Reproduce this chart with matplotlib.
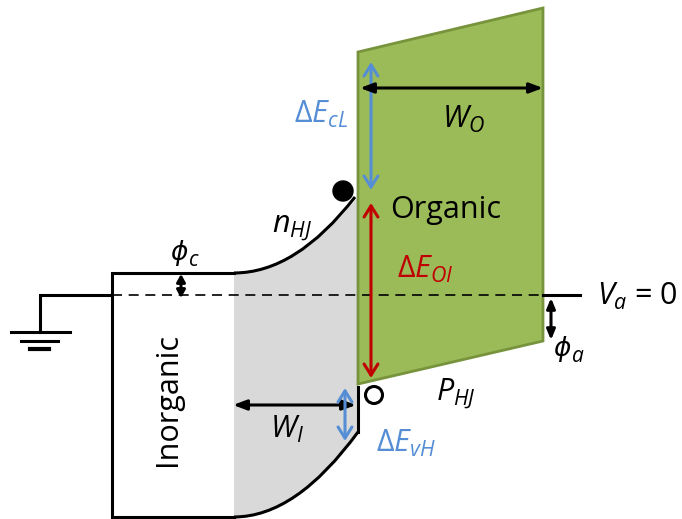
import matplotlib
matplotlib.use('Agg')
import matplotlib.pyplot as plt
from matplotlib.path import Path
from matplotlib.patches import PathPatch, Polygon, Circle

plt.rcParams['font.family'] = ['Open Sans', 'DejaVu Sans']
plt.rcParams['mathtext.fontset'] = 'custom'
plt.rcParams['mathtext.rm'] = 'Open Sans'
plt.rcParams['mathtext.it'] = 'Open Sans:italic'

# band diagram levels, in picture pixels (y grows downward)
fermi_y = 295
inorg_x = [112, 234]          # flat part of the inorganic box
junction_x = 358
cb_flat, cb_top = 273, 197    # conduction band: flat level, bent edge at junction
vb_flat, vb_top = 517, 432    # valence band: flat level, bent edge at junction
organic_x = [358, 543]
organic_top = [52, 8]         # LUMO left / right
organic_bot = [384, 341]      # HOMO left / right
ground = dict(x=40, y=332, bars=[(11, 70), (21, 58), (30, 49)], step=8.5)

black = '#000000'
blue = '#558ed5'
red = '#c00000'
green = '#9bbb59'
green_edge = '#77933c'
gray = '#d9d9d9'

fig = plt.figure(figsize=(6.82, 5.19), dpi=100)
ax = fig.add_axes([0, 0, 1, 1])
ax.set_xlim(0, 682)
ax.set_ylim(519, 0)
ax.axis('off')

x0, x1 = inorg_x
xm_cb = (x1 + junction_x) / 2
# gray depletion region
verts = [(x1, cb_flat), (xm_cb, cb_flat), (junction_x, cb_top),
         (junction_x, vb_top), (xm_cb, vb_flat), (x1, vb_flat), (x1, cb_flat)]
codes = [Path.MOVETO, Path.CURVE3, Path.CURVE3, Path.LINETO,
         Path.CURVE3, Path.CURVE3, Path.CLOSEPOLY]
ax.add_patch(PathPatch(Path(verts, codes), facecolor=gray, edgecolor='none', zorder=1))

# organic parallelogram
ax.add_patch(Polygon([(organic_x[0], organic_top[0]), (organic_x[1], organic_top[1]),
                      (organic_x[1], organic_bot[1]), (organic_x[0], organic_bot[0])],
                     closed=True, facecolor=green, edgecolor=green_edge, lw=2, zorder=2))

lw = 2.2
# inorganic box
ax.plot([x1, x0, x0, x1], [cb_flat, cb_flat, vb_flat, vb_flat], color=black, lw=lw,
        solid_joinstyle='miter', zorder=3)
# conduction band bending
cb = Path([(x1, cb_flat), (xm_cb, cb_flat), (junction_x - 3, cb_top)],
          [Path.MOVETO, Path.CURVE3, Path.CURVE3])
ax.add_patch(PathPatch(cb, facecolor='none', edgecolor=black, lw=lw, zorder=3))
# valence band bending
vb = Path([(x1, vb_flat), (xm_cb, vb_flat), (junction_x, vb_top)],
          [Path.MOVETO, Path.CURVE3, Path.CURVE3])
ax.add_patch(PathPatch(vb, facecolor='none', edgecolor=black, lw=lw, zorder=3))
ax.plot([junction_x, junction_x], [organic_bot[0] + 3, vb_top], color=black, lw=lw, zorder=3)

# Fermi level
ax.plot([x0, organic_x[1]], [fermi_y, fermi_y], color=black, lw=1.2, ls=(0, (6, 4)), zorder=3)
ax.plot([organic_x[1], 580], [fermi_y, fermi_y], color=black, lw=lw, zorder=3)

# ground
ax.plot([x0, ground['x'], ground['x']], [fermi_y, fermi_y, ground['y']], color=black, lw=lw,
        solid_joinstyle='miter')
for i, (a, b) in enumerate(ground['bars']):
    yy = ground['y'] + i * ground['step']
    ax.plot([a, b], [yy, yy], color=black, lw=lw if i < 2 else 3)


def arrow(p0, p1, color, style):
    ax.annotate('', xy=p1, xytext=p0,
                arrowprops=dict(arrowstyle=style, color=color, lw=2.2,
                                shrinkA=0, shrinkB=0), zorder=5)


chev = '<->,head_length=0.8,head_width=0.5'
tri = '<|-|>,head_length=0.8,head_width=0.3'
arrow((371, 62), (371, 190), blue, chev)
arrow((371, 203), (371, 378), red, chev)
arrow((360, 88), (543, 88), black, tri)
arrow((233, 405), (356, 405), black, tri)
arrow((345, 388), (345, 441), blue, chev)
arrow((181, 274), (181, 298), black, '<|-|>,head_length=0.45,head_width=0.25')
arrow((551, 298), (551, 340), black, '<|-|>,head_length=0.6,head_width=0.25')

# electron / hole
ax.add_patch(Circle((343, 191), 10, facecolor=black, edgecolor=black, zorder=6))
ax.add_patch(Circle((374, 395), 8.5, facecolor='white', edgecolor=black, lw=2.2, zorder=6))

fs = 22
bl = dict(fontsize=fs, va='baseline', zorder=7)
ax.text(390, 218, 'Organic', ha='left', **bl)
ax.text(168, 399, 'Inorganic', fontsize=fs, ha='center', va='center', rotation=90, zorder=7)
ax.text(348, 123, r'$\mathit{ΔE}_{\mathit{cL}}$', color=blue, ha='right', **bl)
ax.text(397, 278, r'$\mathit{ΔE}_{\mathit{OI}}$', color=red, ha='left', **bl)
ax.text(376, 452, r'$\mathit{ΔE}_{\mathit{vH}}$', color=blue, ha='left', **bl)
ax.text(442, 128, r'$\mathit{W}_{\mathit{O}}$', ha='left', **bl)
ax.text(270, 438, r'$\mathit{W}_{\mathit{I}}$', ha='left', **bl)
ax.text(272, 232, r'$\mathit{n}_{\mathit{HJ}}$', ha='left', **bl)
ax.text(436, 400, r'$\mathit{P}_{\mathit{HJ}}$', ha='left', **bl)
ax.text(597, 305, r'$\mathit{V}_{\mathit{a}}$ = 0', ha='left', **bl)
# phi labels: DejaVu carries the straight-stroke phi
phi = dict(fontsize=19, family='DejaVu Sans', style='italic', va='baseline', ha='left')
sub = dict(fontsize=15, style='italic', va='baseline', ha='left')
ax.text(170, 260, 'ϕ', **phi)
ax.text(189, 266, 'c', **sub)
ax.text(553, 356, 'ϕ', **phi)
ax.text(572, 362, 'a', **sub)

fig.savefig('out.png', dpi=100)
